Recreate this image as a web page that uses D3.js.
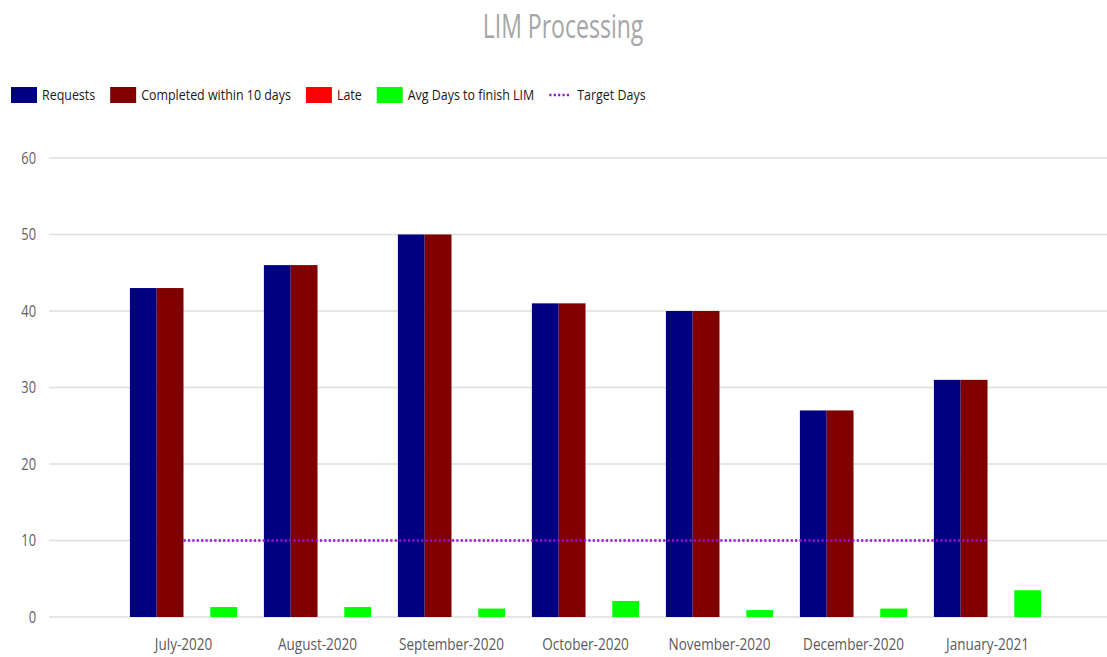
<!DOCTYPE html>
<html>
<head>
<meta charset="utf-8">
<script src="https://cdn.jsdelivr.net/npm/d3@7"></script>
<style>
  html, body { margin: 0; padding: 0; background: #fff; }
  svg { display: block; font-family: "Open Sans", sans-serif; }
</style>
</head>
<body>
<svg id="chart" width="1107" height="657"></svg>
<script>
// Monthly LIM processing figures
const months = ["July-2020", "August-2020", "September-2020", "October-2020",
                "November-2020", "December-2020", "January-2021"];
const requests  = [43, 46, 50, 41, 40, 27, 31];
const completed = [43, 46, 50, 41, 40, 27, 31];
const late      = [0, 0, 0, 0, 0, 0, 0];
const avgDays   = [1.3, 1.3, 1.1, 2.1, 0.9, 1.1, 3.5];
const targetDays = [10, 10, 10, 10, 10, 10, 10];
const yTicks = [0, 10, 20, 30, 40, 50, 60];

const seriesNames = ["Requests", "Completed within 10 days", "Late", "Avg Days to finish LIM"];
const seriesColors = ["#000080", "#800000", "#ff0000", "#00ff00"];
const seriesValues = [requests, completed, late, avgDays];
const targetName = "Target Days";
const targetColor = "#9b10d8";

const svg = d3.select("#chart");
const W = 1107, H = 657;
const gridLeft = 49, gridRight = W;
const plot = { left: 116.5, right: 1054.5, top: 158, bottom: 617 };

// Narrow text look: horizontal squeeze applied to every label
const SQ = 0.83, SQ_TITLE = 0.72;
function squeezed(sel, x, y, s) {
  return sel.attr("transform", `translate(${x},${y}) scale(${s},1)`);
}

const y = d3.scaleLinear().domain([0, 60]).range([plot.bottom, plot.top]);
const x0 = d3.scaleBand().domain(months).range([plot.left, plot.right]).paddingInner(0).paddingOuter(0);
const x1 = d3.scaleBand().domain(d3.range(seriesNames.length))
  .range([0, x0.bandwidth()]).paddingInner(0).paddingOuter(0.5);

// Title
squeezed(svg.append("text"), 563, 38, SQ_TITLE)
  .attr("text-anchor", "middle")
  .attr("font-size", 32)
  .attr("fill", "#a6a6a6")
  .text("LIM Processing");

// Horizontal gridlines
svg.append("g").selectAll("line").data(yTicks).join("line")
  .attr("x1", gridLeft).attr("x2", gridRight)
  .attr("y1", d => y(d)).attr("y2", d => y(d))
  .attr("stroke", "#dedede").attr("stroke-width", 1.5);

// Y tick labels
svg.append("g").selectAll("text").data(yTicks).join("text")
  .each(function (d) { squeezed(d3.select(this), 36, y(d) + 5.5, SQ); })
  .attr("text-anchor", "end")
  .attr("font-size", 15.5)
  .attr("fill", "#606060")
  .text(d => d);

// Grouped bars
const groups = svg.append("g").selectAll("g").data(months).join("g")
  .attr("transform", d => `translate(${x0(d)},0)`);
groups.selectAll("rect")
  .data((m, i) => seriesValues.map((vals, s) => ({ s, v: vals[i] })))
  .join("rect")
  .attr("x", d => x1(d.s))
  .attr("width", x1.bandwidth())
  .attr("y", d => y(d.v))
  .attr("height", d => y(0) - y(d.v))
  .attr("fill", d => seriesColors[d.s]);

// Target days line (dotted) across category centres
const line = d3.line()
  .x((d, i) => x0(months[i]) + x0.bandwidth() / 2)
  .y(d => y(d));
svg.append("path")
  .datum(targetDays)
  .attr("d", line)
  .attr("fill", "none")
  .attr("stroke", targetColor)
  .attr("stroke-width", 2.5)
  .attr("stroke-dasharray", "2.2,2.2");

// Category labels
svg.append("g").selectAll("text").data(months).join("text")
  .each(function (d) { squeezed(d3.select(this), x0(d) + x0.bandwidth() / 2, 650, SQ * 0.96); })
  .attr("text-anchor", "middle")
  .attr("font-size", 17)
  .attr("fill", "#5a5a5a")
  .text(d => d);

// Legend
const legend = svg.append("g");
let lx = 11;
const legendY = 87;
seriesNames.forEach((name, i) => {
  legend.append("rect")
    .attr("x", lx).attr("y", legendY)
    .attr("width", 26).attr("height", 16)
    .attr("fill", seriesColors[i]);
  const t = squeezed(legend.append("text"), lx + 31, legendY + 13, SQ)
    .attr("font-size", 15)
    .attr("fill", "#1a1a1a")
    .text(name);
  lx += 31 + t.node().getComputedTextLength() * SQ + 15;
});
legend.append("line")
  .attr("x1", lx).attr("x2", lx + 22)
  .attr("y1", legendY + 8).attr("y2", legendY + 8)
  .attr("stroke", targetColor).attr("stroke-width", 2.5)
  .attr("stroke-dasharray", "2.2,2.2");
squeezed(legend.append("text"), lx + 28, legendY + 13, SQ)
  .attr("font-size", 15)
  .attr("fill", "#1a1a1a")
  .text(targetName);
</script>
</body>
</html>
